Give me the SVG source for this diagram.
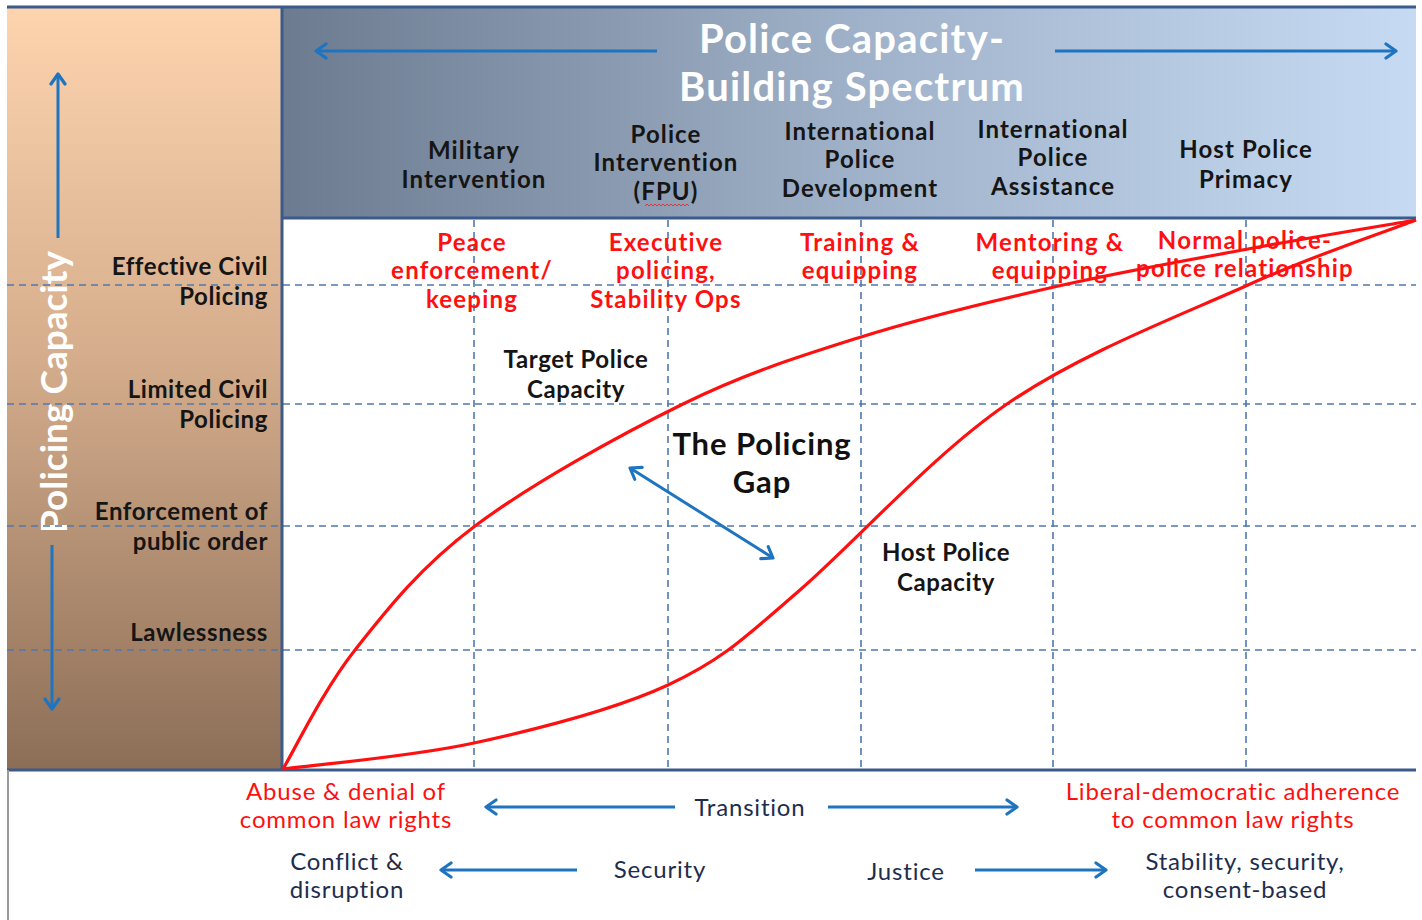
<svg xmlns="http://www.w3.org/2000/svg" width="1422" height="920" viewBox="0 0 1422 920">
  <style>
    text { font-family: Lato, "Open Sans", "Liberation Sans", sans-serif; }
    .title { font-size: 40px; font-weight: bold; fill: #ffffff; text-anchor: middle; letter-spacing: 1.2px; }
    .axis { font-size: 37px; font-weight: bold; fill: #ffffff; text-anchor: middle; }
    .head { font-size: 24px; font-weight: bold; fill: #151515; text-anchor: middle; letter-spacing: 1.1px; }
    .lvl { font-size: 24px; font-weight: bold; fill: #151515; text-anchor: end; letter-spacing: 0.6px; }
    .red { font-size: 24px; font-weight: bold; fill: #ff1010; text-anchor: middle; letter-spacing: 1.2px; }
    .cap { font-size: 24px; font-weight: bold; fill: #151515; text-anchor: middle; letter-spacing: 0.6px; }
    .gap { font-size: 31px; font-weight: bold; fill: #111111; text-anchor: middle; letter-spacing: 0.9px; }
    .foot { font-size: 24px; fill: #1e2d4e; text-anchor: middle; letter-spacing: 0.8px; }
    .footred { font-size: 24px; fill: #ff1010; text-anchor: middle; letter-spacing: 0.8px; }
    .grid { stroke: #4f78b0; stroke-width: 1.6; stroke-dasharray: 7 5; fill: none; }
    .frame { stroke: #3a5b8c; stroke-width: 3; fill: none; }
    .blue { stroke: #1f74c0; stroke-width: 3; fill: none; marker-end: url(#arrow); }
    .curve { stroke: #ff1010; stroke-width: 3.2; fill: none; stroke-linejoin: round; }
  </style>
  <defs>
    <linearGradient id="peach" x1="0" y1="0" x2="0" y2="1">
      <stop offset="0" stop-color="#fdd4ae"/>
      <stop offset="0.45" stop-color="#d6ae8d"/>
      <stop offset="1" stop-color="#8c6e57"/>
    </linearGradient>
    <linearGradient id="slate" x1="0" y1="0" x2="1" y2="0">
      <stop offset="0" stop-color="#6c7b90"/>
      <stop offset="0.5" stop-color="#9fb1c8"/>
      <stop offset="1" stop-color="#c6dbf3"/>
    </linearGradient>
    <marker id="arrow" viewBox="0 0 18 18" refX="14" refY="9" markerWidth="18" markerHeight="18" markerUnits="userSpaceOnUse" orient="auto-start-reverse">
      <path d="M4,2 L14,9 L4,16" fill="none" stroke="#1f74c0" stroke-width="3.2" stroke-linecap="round" stroke-linejoin="round"/>
    </marker>
  </defs>

  <rect width="1422" height="920" fill="#ffffff"/>

  <!-- capacity axis panel -->
  <g id="axis-panel">
    <rect x="7" y="7" width="275" height="763" fill="url(#peach)"/>
    <line class="blue" x1="58" y1="238" x2="58" y2="74"/>
    <line class="blue" x1="52" y1="545" x2="52" y2="709"/>
    <text class="axis" transform="translate(67,392) rotate(-90)">Policing Capacity</text>
  </g>

  <!-- spectrum header -->
  <g id="header">
    <rect x="282" y="7" width="1134" height="211" fill="url(#slate)"/>
    <line class="blue" x1="657" y1="51" x2="316" y2="51"/>
    <line class="blue" x1="1055" y1="51" x2="1396" y2="51"/>
    <text class="title" x="852" y="53">Police Capacity-</text>
    <text class="title" x="852" y="101">Building Spectrum</text>
  </g>

  <!-- grid -->
  <g id="grid">
    <line class="grid" x1="7" y1="285" x2="1416" y2="285"/>
    <line class="grid" x1="7" y1="404" x2="1416" y2="404"/>
    <line class="grid" x1="7" y1="526" x2="1416" y2="526"/>
    <line class="grid" x1="7" y1="650" x2="1416" y2="650"/>
    <line class="grid" x1="474" y1="220" x2="474" y2="768"/>
    <line class="grid" x1="668" y1="220" x2="668" y2="768"/>
    <line class="grid" x1="861" y1="220" x2="861" y2="768"/>
    <line class="grid" x1="1053" y1="220" x2="1053" y2="768"/>
    <line class="grid" x1="1246" y1="220" x2="1246" y2="768"/>
  </g>

  <!-- frame -->
  <g id="frame">
    <line class="frame" x1="7" y1="7" x2="1416" y2="7"/>
    <line class="frame" x1="282" y1="7" x2="282" y2="770"/>
    <line class="frame" x1="282" y1="218" x2="1416" y2="218"/>
    <line class="frame" x1="7" y1="770" x2="1416" y2="770"/>
    <line x1="8" y1="770" x2="8" y2="920" stroke="#9a9a9a" stroke-width="2"/>
  </g>

  <!-- capacity curves and gap arrow -->
  <g id="connectors">
    <path id="target-curve" class="curve" d="M283,769 C295,749 323,690.5 355,650 C387,609.5 420.3,567 475,526 C529.7,485 618.7,435.5 683,404 C747.3,372.5 799.2,356.5 861,337 C922.8,317.5 989.5,301.7 1054,287 C1118.5,272.3 1187.7,260.2 1248,249 C1308.3,237.8 1388,224.8 1416,220"/>
    <path id="host-curve" class="curve" d="M283,769 C314.8,764.7 409.8,757 474,743 C538.2,729 613.7,710.2 668,685 C722.3,659.8 743.5,638.8 800,590 C856.5,541 932.3,455.2 1007,404 C1081.7,352.8 1179.8,315.7 1248,285 C1316.2,254.3 1388,230.8 1416,220"/>
    <line id="gap-arrow" class="blue" x1="630" y1="468" x2="773" y2="558" style="marker-start:url(#arrow)"/>
  </g>

  <!-- spectrum stages -->
  <g id="stage-military">
    <text class="head" x="474" y="159">Military</text>
    <text class="head" x="474" y="188">Intervention</text>
  </g>
  <g id="stage-fpu">
    <text class="head" x="666" y="143">Police</text>
    <text class="head" x="666" y="171">Intervention</text>
    <text class="head" x="666" y="200">(FPU)</text>
    <path d="M645,206 l2,-2 l2,2 l2,-2 l2,2 l2,-2 l2,2 l2,-2 l2,2 l2,-2 l2,2 l2,-2 l2,2 l2,-2 l2,2 l2,-2 l2,2 l2,-2 l2,2 l2,-2 l2,2 l2,-2 l2,2" fill="none" stroke="#e0343c" stroke-width="1"/>
  </g>
  <g id="stage-development">
    <text class="head" x="860" y="140">International</text>
    <text class="head" x="860" y="168">Police</text>
    <text class="head" x="860" y="197">Development</text>
  </g>
  <g id="stage-assistance">
    <text class="head" x="1053" y="138">International</text>
    <text class="head" x="1053" y="166">Police</text>
    <text class="head" x="1053" y="195">Assistance</text>
  </g>
  <g id="stage-primacy">
    <text class="head" x="1246" y="158">Host Police</text>
    <text class="head" x="1246" y="188">Primacy</text>
  </g>

  <!-- activities per stage -->
  <g id="activity-peace">
    <text class="red" x="472" y="251">Peace</text>
    <text class="red" x="472" y="279">enforcement/</text>
    <text class="red" x="472" y="308">keeping</text>
  </g>
  <g id="activity-executive">
    <text class="red" x="666" y="251">Executive</text>
    <text class="red" x="666" y="279">policing,</text>
    <text class="red" x="666" y="308">Stability Ops</text>
  </g>
  <g id="activity-training">
    <text class="red" x="860" y="251">Training &amp;</text>
    <text class="red" x="860" y="279">equipping</text>
  </g>
  <g id="activity-mentoring">
    <text class="red" x="1050" y="251">Mentoring &amp;</text>
    <text class="red" x="1050" y="279">equipping</text>
  </g>
  <g id="activity-normal">
    <text class="red" x="1245" y="249">Normal police-</text>
    <text class="red" x="1245" y="277">police relationship</text>
  </g>

  <!-- capacity levels -->
  <g id="level-effective">
    <text class="lvl" x="268" y="275">Effective Civil</text>
    <text class="lvl" x="268" y="305">Policing</text>
  </g>
  <g id="level-limited">
    <text class="lvl" x="268" y="398">Limited Civil</text>
    <text class="lvl" x="268" y="428">Policing</text>
  </g>
  <g id="level-enforcement">
    <text class="lvl" x="268" y="520">Enforcement of</text>
    <text class="lvl" x="268" y="550">public order</text>
  </g>
  <g id="level-lawlessness">
    <text class="lvl" x="268" y="641">Lawlessness</text>
  </g>

  <!-- curve labels -->
  <g id="label-target">
    <text class="cap" x="576" y="368">Target Police</text>
    <text class="cap" x="576" y="398">Capacity</text>
  </g>
  <g id="label-gap">
    <text class="gap" x="762" y="455">The Policing</text>
    <text class="gap" x="762" y="493">Gap</text>
  </g>
  <g id="label-host">
    <text class="cap" x="946" y="561">Host Police</text>
    <text class="cap" x="946" y="591">Capacity</text>
  </g>

  <!-- transition footer -->
  <g id="footer-abuse">
    <text class="footred" x="346" y="800">Abuse &amp; denial of</text>
    <text class="footred" x="346" y="828">common law rights</text>
  </g>
  <g id="footer-transition">
    <line class="blue" x1="675" y1="807" x2="486" y2="807"/>
    <text class="foot" x="750" y="816">Transition</text>
    <line class="blue" x1="828" y1="807" x2="1017" y2="807"/>
  </g>
  <g id="footer-liberal">
    <text class="footred" x="1233" y="800">Liberal-democratic adherence</text>
    <text class="footred" x="1233" y="828">to common law rights</text>
  </g>
  <g id="footer-conflict">
    <text class="foot" x="347" y="870">Conflict &amp;</text>
    <text class="foot" x="347" y="898">disruption</text>
  </g>
  <g id="footer-security">
    <line class="blue" x1="577" y1="870" x2="441" y2="870"/>
    <text class="foot" x="660" y="878">Security</text>
  </g>
  <g id="footer-justice">
    <text class="foot" x="906" y="880">Justice</text>
    <line class="blue" x1="975" y1="870" x2="1106" y2="870"/>
  </g>
  <g id="footer-stability">
    <text class="foot" x="1245" y="870">Stability, security,</text>
    <text class="foot" x="1245" y="898">consent-based</text>
  </g>
</svg>
